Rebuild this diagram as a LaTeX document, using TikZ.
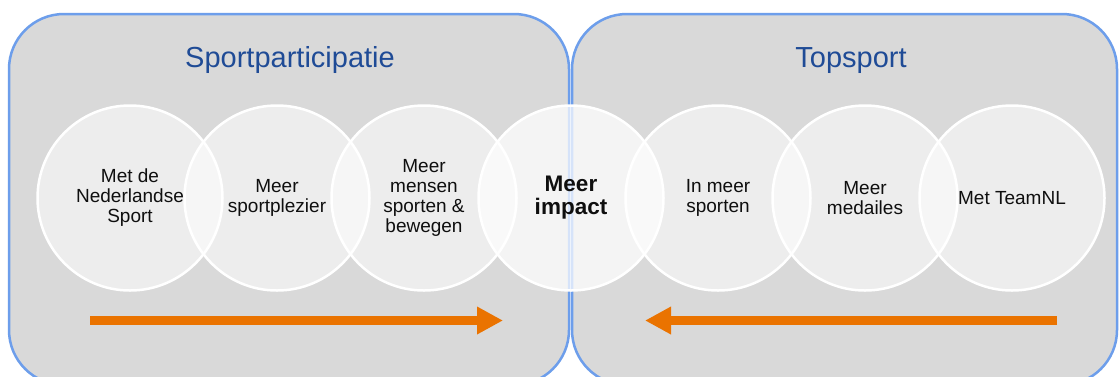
\documentclass[tikz,border=0pt]{standalone}
\usepackage{fontspec}
\setmainfont{Liberation Sans}
\usetikzlibrary{arrows.meta}
\definecolor{panelfill}{RGB}{217,217,217}
\definecolor{panelline}{RGB}{109,158,235}
\definecolor{titleblue}{RGB}{31,75,150}
\definecolor{arroworange}{RGB}{234,115,0}
\definecolor{txt}{RGB}{15,15,15}
\tikzset{
  panel/.style={fill=panelfill, draw=panelline, line width=2.5pt, rounded corners=55pt},
  circ/.style={circle, minimum size=185pt, inner sep=0pt, draw=white, line width=2.5pt,
    fill=white, fill opacity=0.55, text opacity=1, text=txt, align=center,
    font=\fontsize{19}{20}\selectfont},
  bigcirc/.style={circ, fill opacity=0.72, font=\fontsize{22.5}{23}\selectfont\bfseries},
  paneltitle/.style={text=titleblue, font=\fontsize{29}{32}\selectfont, anchor=base, inner sep=0pt},
  flow/.style={draw=arroworange, line width=9pt, -{Triangle[width=26pt,length=26pt]}}
}
\begin{document}
\begin{tikzpicture}[x=1pt,y=-1pt]
\useasboundingbox (0,0) rectangle (1119,376);
\clip (0,0) rectangle (1119,376);
\fill[white] (0,0) rectangle (1119,376);
\draw[panel] (9,14) rectangle (569,385);
\draw[panel] (572,14) rectangle (1117,385);
\node[paneltitle] (t1) at (290,67) {Sportparticipatie};
\node[paneltitle] (t2) at (851,67) {Topsport};
\node[circ] (c1) at (130,198) {Met de\\Nederlandse\\Sport};
\node[circ] (c2) at (277,198) {Meer\\sportplezier};
\node[circ] (c3) at (424,198) {Meer\\mensen\\sporten \&\\bewegen};
\node[circ] (c5) at (718,198) {In meer\\sporten};
\node[circ] (c6) at (865,198) {Meer\\medailes};
\node[circ] (c7) at (1012,198) {Met TeamNL};
\node[bigcirc] (c4) at (571,198) {Meer\\impact};
\coordinate (a1s) at (90,320.5);
\coordinate (a1e) at (503,320.5);
\coordinate (a2s) at (1057,320.5);
\coordinate (a2e) at (645,320.5);
\draw[flow] (a1s) -- (a1e);
\draw[flow] (a2s) -- (a2e);
\end{tikzpicture}
\end{document}
